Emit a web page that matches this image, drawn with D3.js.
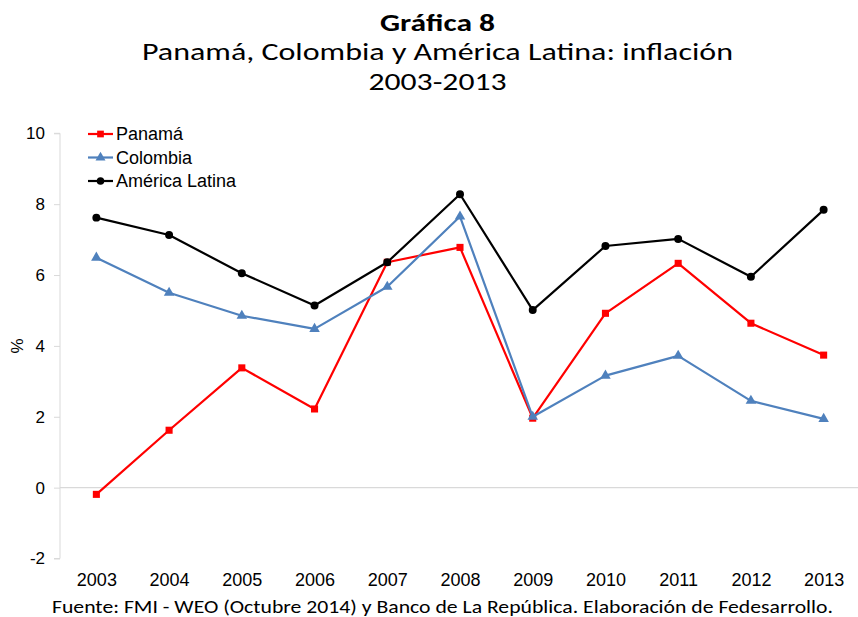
<!DOCTYPE html>
<html>
<head>
<meta charset="utf-8">
<script src="https://cdn.jsdelivr.net/npm/d3@7"></script>
<style>
  html, body { margin: 0; padding: 0; background: #fff; }
  svg { display: block; }
</style>
</head>
<body>
<svg id="chart" width="858" height="617"></svg>
<script>
// Annual inflation (%), 2003-2013
const years = ["2003","2004","2005","2006","2007","2008","2009","2010","2011","2012","2013"];
const panama   = [-0.19, 1.62, 3.38, 2.22, 6.36, 6.78, 1.96, 4.92, 6.33, 4.64, 3.74];
const colombia = [6.49, 5.50, 4.85, 4.48, 5.67, 7.65, 2.00, 3.16, 3.72, 2.45, 1.94];
const latam    = [7.62, 7.13, 6.05, 5.14, 6.36, 8.28, 5.01, 6.82, 7.02, 5.95, 7.84];
const yTicks   = [-2, 0, 2, 4, 6, 8, 10];

const seriesNames = ["Panamá", "Colombia", "América Latina"];
const seriesColors = ["#FF0000", "#4F81BD", "#000000"];
const seriesShapes = [d3.symbolSquare, d3.symbolTriangle, d3.symbolCircle];
const seriesSizes = [50, 48, 50];

const series = [panama, colombia, latam].map((vals, i) => ({
  name: seriesNames[i], color: seriesColors[i], shape: seriesShapes[i], size: seriesSizes[i],
  values: vals.map((v, j) => ({ year: years[j], value: v }))
}));

const svg = d3.select("#chart");
const titleFont = "Carlito, Calibri, 'Open Sans', Lato, sans-serif";
const axisFont = "'Liberation Sans', Arial, sans-serif";

const plot = { left: 60, right: 860, top: 133.3, bottom: 558.5 };

const x = d3.scalePoint().domain(years).range([plot.left, plot.right]).padding(0.5);
const y = d3.scaleLinear().domain([-2, 10]).range([plot.bottom, plot.top]);

// Titles: fixed size, held to a set width
function title(text, yPos, size, width, bold) {
  return svg.append("text").attr("x", 437.5).attr("y", yPos).attr("text-anchor", "middle")
    .attr("font-family", titleFont).attr("font-weight", bold ? "bold" : "normal")
    .attr("font-size", size).attr("fill", "#000")
    .attr("textLength", width).attr("lengthAdjust", "spacingAndGlyphs")
    .text(text);
}
title("Gráfica 8", 30.5, 25, 115, true);
title("Panamá, Colombia y América Latina: inflación", 60, 25.5, 591, false);
title("2003-2013", 89.5, 25.5, 138, false);

// Y axis
const yAxis = d3.axisLeft(y).tickValues(yTicks).tickSize(6).tickPadding(9).tickFormat(d => String(d));
const gy = svg.append("g").attr("transform", `translate(${plot.left},0)`).call(yAxis);
gy.select(".domain").attr("stroke", "#d9d9d9").attr("d", `M-6,${plot.top}H0V${plot.bottom}H-6`);
gy.selectAll(".tick line").attr("stroke", "#d9d9d9");
gy.selectAll(".tick text").attr("font-family", axisFont).attr("font-size", 17).attr("fill", "#000");

// Horizontal axis line at zero
svg.append("line").attr("x1", plot.left).attr("x2", plot.right)
  .attr("y1", y(0)).attr("y2", y(0)).attr("stroke", "#d9d9d9").attr("stroke-width", 1.2);

// Category labels along the bottom
const xAxis = d3.axisBottom(x).tickSize(0).tickPadding(0);
const gx = svg.append("g").attr("transform", `translate(0,${plot.bottom + 15})`).call(xAxis);
gx.select(".domain").remove();
gx.selectAll(".tick text").attr("font-family", axisFont).attr("font-size", 18).attr("fill", "#000")
  .attr("dy", "0.71em");

// Y axis title
svg.append("text").attr("transform", `translate(23,346) rotate(-90)`).attr("text-anchor", "middle")
  .attr("font-family", axisFont).attr("font-size", 17).attr("fill", "#000").text("%");

// Series
const line = d3.line().x(d => x(d.year)).y(d => y(d.value));
series.forEach(s => {
  const g = svg.append("g");
  g.append("path").datum(s.values).attr("d", line).attr("fill", "none")
    .attr("stroke", s.color).attr("stroke-width", 2.2).attr("stroke-linejoin", "round");
  g.selectAll("path.mk").data(s.values).join("path").attr("class", "mk")
    .attr("transform", d => `translate(${x(d.year)},${y(d.value)})`)
    .attr("d", d3.symbol(s.shape, s.size)).attr("fill", s.color);
});

// Legend
const legend = svg.append("g").attr("transform", "translate(88,134)");
series.forEach((s, i) => {
  const row = legend.append("g").attr("transform", `translate(0,${i * 23.5})`);
  row.append("line").attr("x1", 0).attr("x2", 25).attr("stroke", s.color).attr("stroke-width", 2.2);
  row.append("path").attr("transform", "translate(12.5,0)").attr("d", d3.symbol(s.shape, s.size * 0.9)).attr("fill", s.color);
  row.append("text").attr("x", 28).attr("y", 0).attr("dy", "0.35em")
    .attr("font-family", axisFont).attr("font-size", 18).attr("fill", "#000").text(s.name);
});

// Source note
svg.append("text").attr("x", 442.5).attr("y", 612.5).attr("text-anchor", "middle")
  .attr("font-family", titleFont).attr("font-size", 19).attr("fill", "#000")
  .attr("textLength", 781).attr("lengthAdjust", "spacingAndGlyphs")
  .text("Fuente: FMI - WEO (Octubre 2014) y Banco de La República. Elaboración de Fedesarrollo.");
</script>
</body>
</html>
